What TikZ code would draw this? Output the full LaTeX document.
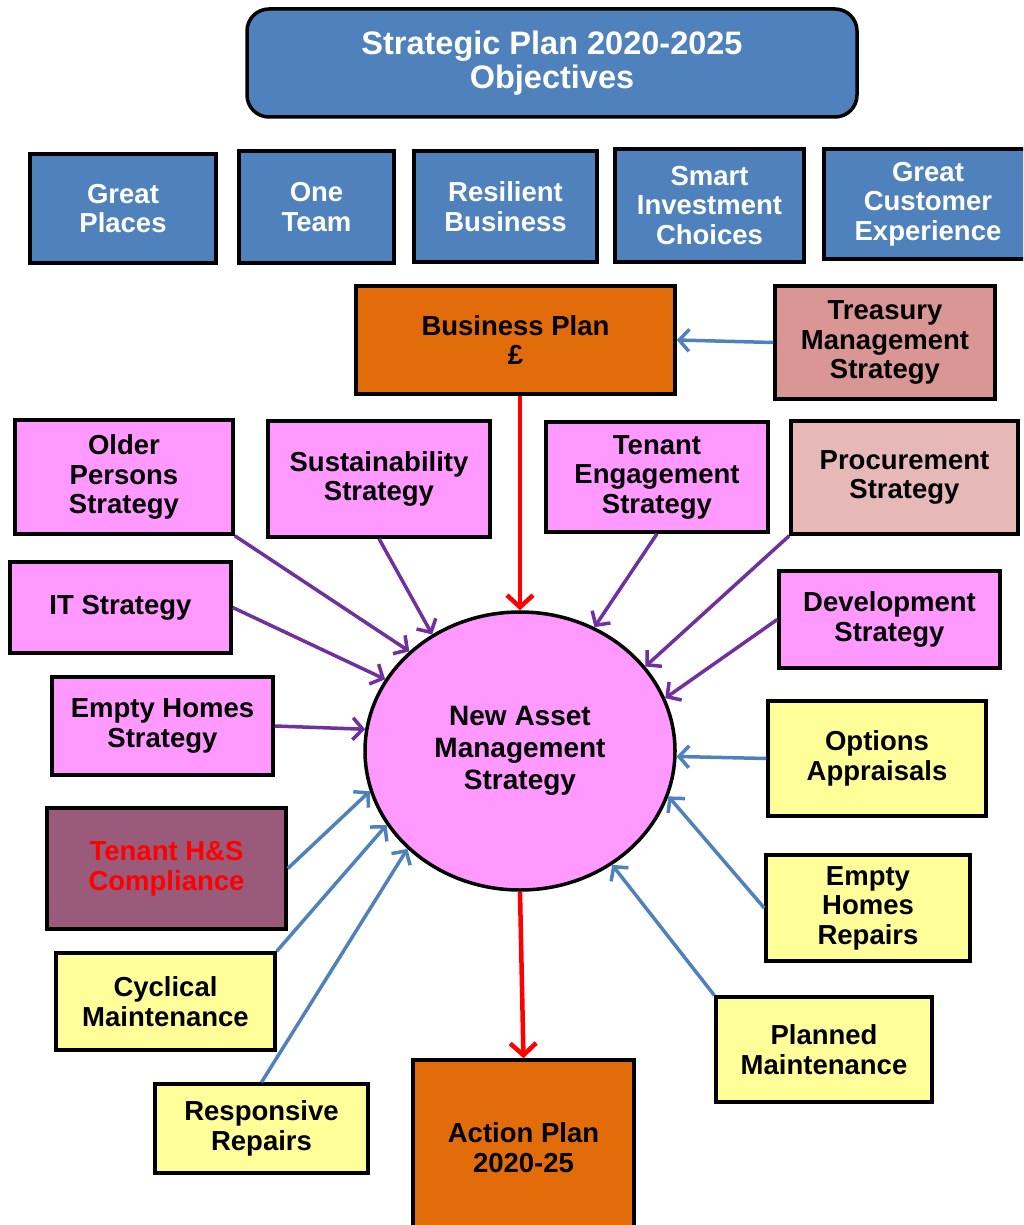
\documentclass[tikz,border=0pt]{standalone}
\usepackage{fontspec}
\setmainfont{Liberation Sans}
\usetikzlibrary{shapes.geometric,arrows.meta}
\definecolor{objblue}{HTML}{4F81BD}
\definecolor{planorange}{HTML}{E36C0A}
\definecolor{stratpink}{HTML}{FF99FF}
\definecolor{treasury}{HTML}{D99694}
\definecolor{procure}{HTML}{E6B9B8}
\definecolor{hsmauve}{HTML}{9A5A7A}
\definecolor{opyellow}{HTML}{FFFF99}
\definecolor{arrpurple}{HTML}{7030A0}
\definecolor{arrblue}{HTML}{4F81BD}
\definecolor{arrred}{HTML}{FF0000}
\begin{document}
\begin{tikzpicture}[x=1pt,y=-1pt,
  box/.style={draw=black, line width=3.5pt, rectangle, align=center, inner sep=0pt,
    font=\bfseries\fontsize{27.5}{29.5}\selectfont},
  objbox/.style={box, fill=objblue, text=white},
  pinkbox/.style={box, fill=stratpink},
  yelbox/.style={box, fill=opyellow},
  orangebox/.style={box, fill=planorange},
  arr/.style={line width=3.5pt, -{Straight Barb[length=10pt,width=22pt]}},
  parr/.style={arr, draw=arrpurple},
  barr/.style={arr, draw=arrblue},
  rarr/.style={line width=4.5pt, draw=arrred, -{Straight Barb[length=12pt,width=26pt]}}
]
\useasboundingbox (0,0) rectangle (1023,1225);
\clip (0,0) rectangle (1023,1225);

% title
\node[draw=black, line width=3.5pt, fill=objblue, rounded corners=22pt, text=white,
  align=center, inner sep=0pt, minimum width=610pt, minimum height=108pt,
  font=\bfseries\fontsize{32.5}{34}\selectfont] (title) at (552,63) {Strategic Plan 2020-2025\\Objectives};

% objectives
\node[objbox, minimum width=186pt, minimum height=109pt] (gp) at (123,208.5) {Great\\Places};
\node[objbox, minimum width=155pt, minimum height=112pt] (ot) at (316.5,207) {One\\Team};
\node[objbox, minimum width=183pt, minimum height=111pt] (rb) at (505.5,206.5) {Resilient\\Business};
\node[objbox, minimum width=189pt, minimum height=113pt] (sic) at (709.5,205.5) {Smart\\Investment\\Choices};
\node[objbox, minimum width=208pt, minimum height=110pt] (gce) at (928,204) {Great\\Customer\\Experience};

% plans
\node[orangebox, minimum width=319pt, minimum height=108pt] (bp) at (515.5,340) {Business Plan\\£};
\node[box, fill=treasury, minimum width=220pt, minimum height=113pt] (tms) at (885,342.5) {Treasury\\Management\\Strategy};

% strategies
\node[pinkbox, minimum width=218pt, minimum height=114pt] (ops) at (124,477) {Older\\Persons\\Strategy};
\node[pinkbox, minimum width=222pt, minimum height=116pt] (sus) at (379,479) {Sustainability\\Strategy};
\node[pinkbox, minimum width=222pt, minimum height=110pt] (tes) at (657,477) {Tenant\\Engagement\\Strategy};
\node[box, fill=procure, minimum width=227pt, minimum height=113pt] (pro) at (904.5,477.5) {Procurement\\Strategy};
\node[pinkbox, minimum width=221pt, minimum height=91pt] (its) at (120.5,607.5) {IT Strategy};
\node[pinkbox, minimum width=221pt, minimum height=97pt] (dev) at (889.5,619.5) {Development\\Strategy};
\node[pinkbox, minimum width=221pt, minimum height=98pt] (ehs) at (162.5,726) {Empty Homes\\Strategy};
\node[box, fill=hsmauve, text=arrred, minimum width=239pt, minimum height=121pt] (ths) at (166.5,868.5) {Tenant H\&S\\Compliance};

% works
\node[yelbox, minimum width=219pt, minimum height=97pt] (cyc) at (165.5,1001.5) {Cyclical\\Maintenance};
\node[yelbox, minimum width=213pt, minimum height=89pt] (rr) at (261.5,1128.5) {Responsive\\Repairs};
\node[yelbox, minimum width=218pt, minimum height=115pt] (oa) at (877,758.5) {Options\\Appraisals};
\node[yelbox, minimum width=204pt, minimum height=106pt] (ehr) at (868,908) {Empty\\Homes\\Repairs};
\node[yelbox, minimum width=216pt, minimum height=105pt] (pm) at (824,1049.5) {Planned\\Maintenance};
\node[orangebox, minimum width=221pt, minimum height=175pt] (ap) at (523.5,1147.5) {Action Plan\\2020-25};

% central ellipse
\node[ellipse, draw=black, line width=3.5pt, fill=stratpink, inner sep=0pt,
  minimum width=310pt, minimum height=278pt, align=center,
  font=\bfseries\fontsize{28}{32}\selectfont] (ams) at (520,751) {New Asset\\Management\\Strategy};

% connectors
\draw[barr] (tms.west) -- (bp.east);
\draw[rarr] (bp.south -| ams.north) -- (ams.north);
\draw[rarr] (ams.south) -- (ap.north);

\draw[parr] (ops.south east) -- (ams.138);
\draw[parr] (sus.south) -- (ams.127);
\draw[parr] (its.east) -- (ams.152);
\draw[parr] (ehs.east) -- (ams.172.5);
\draw[parr] (tes.south) -- (ams.59);
\draw[parr] (pro.south west) -- (ams.34.5);
\draw[parr] (dev.west) -- (ams.20);

\draw[barr] (oa.west) -- (ams.-2);
\draw[barr] (ehr.west) -- (ams.-17.5);
\draw[barr] (pm.north west) -- (ams.-51);
\draw[barr] (ths.east) -- (ams.195);
\draw[barr] (cyc.north east) -- (ams.209);
\draw[barr] (rr.north) -- (ams.221.5);
\end{tikzpicture}
\end{document}
